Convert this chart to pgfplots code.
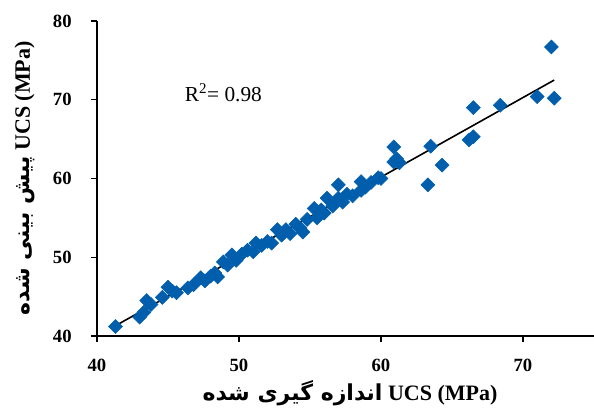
\documentclass[border=0pt]{standalone}
\usepackage{fontspec}
\setmainfont{Liberation Serif}
\newfontfamily\arabicfont[Script=Arabic]{DejaVu Sans}
\TeXXeTstate=1
\usepackage{pgfplots}
\pgfplotsset{compat=1.18}
\definecolor{ptblue}{RGB}{0,94,172}

\begin{document}
\begin{tikzpicture}
\useasboundingbox (-72.75pt,-60pt) rectangle (372.75pt,252pt);
\begin{axis}[
    at={(0,0)}, anchor=south west,
    scale only axis,
    width=372.75pt, height=236.25pt,
    xmin=40, xmax=75, ymin=40, ymax=80,
    axis x line=bottom, axis y line=left,
    axis line style={-, line width=1.1pt},
    xtick={40,50,60,70}, ytick={40,50,60,70,80},
    tick align=outside, major tick length=4.5pt,
    tick style={black, line width=1.1pt},
    /pgf/number format/assume math mode=true,
    ticklabel style={font=\fontsize{14}{16}\selectfont\bfseries},
    xticklabel style={yshift=-9pt},
    yticklabel style={xshift=-11pt},
    xlabel={\fontsize{16.5}{19}\selectfont\bfseries\beginR\beginL UCS (MPa)\endL{} {\arabicfont اندازه گیری شده}\endR},
    ylabel={\fontsize{16.5}{19}\selectfont\bfseries\beginR\beginL UCS (MPa)\endL{} {\arabicfont پیش بینی شده}\endR},
    xlabel style={at={(axis description cs:0.509,-0.181)}, anchor=center},
    ylabel style={at={(axis description cs:-0.145,0.5)}, anchor=center},
    clip=false,
]
\addplot[only marks, mark=square*, mark size=3.7pt,
    mark options={rotate=45, fill=ptblue, draw=ptblue}] coordinates {
    (41.3,41.2) (43.0,42.4) (43.3,43.0) (43.5,44.5) (43.8,44.0)
    (44.6,44.9) (45.0,46.2) (45.3,45.7) (45.6,45.5) (46.4,46.1)
    (46.8,46.5) (47.3,47.4) (47.6,47.0) (48.0,47.6) (48.3,48.0)
    (48.5,47.5) (48.9,49.4) (49.2,49.0) (49.5,50.3) (49.8,49.6)
    (50.2,50.4) (50.6,50.9) (51.0,50.7) (51.2,51.8) (51.6,51.5)
    (52.0,52.0) (52.3,51.8) (52.7,53.5) (53.0,52.8) (53.3,53.5)
    (53.6,53.0) (54.0,54.2) (54.3,53.7) (54.5,53.2) (54.8,54.8)
    (55.3,56.2) (55.5,55.0) (55.8,56.0) (56.0,55.6) (56.2,57.5)
    (56.6,56.5) (57.0,59.2) (57.0,57.5) (57.3,57.0) (57.6,58.0)
    (58.0,57.8) (58.6,59.6) (58.6,58.5) (58.9,58.9) (59.3,59.5)
    (59.8,60.1) (60.0,60.0) (60.9,62.1) (60.9,64.0) (61.1,62.5)
    (61.3,62.0) (63.3,59.2) (63.5,64.1) (64.3,61.7) (66.2,64.9)
    (66.5,65.3) (66.5,69.0) (68.4,69.3) (71.0,70.4) (72.0,76.7)
    (72.2,70.2)
};
\addplot[black, line width=1.2pt] coordinates {(41.3,41.3) (72.2,72.5)};
\node[font=\fontsize{16}{18}\selectfont] at (axis cs:48.9,70.9) {R\textsuperscript{2}= 0.98};
\end{axis}
\end{tikzpicture}
\end{document}
